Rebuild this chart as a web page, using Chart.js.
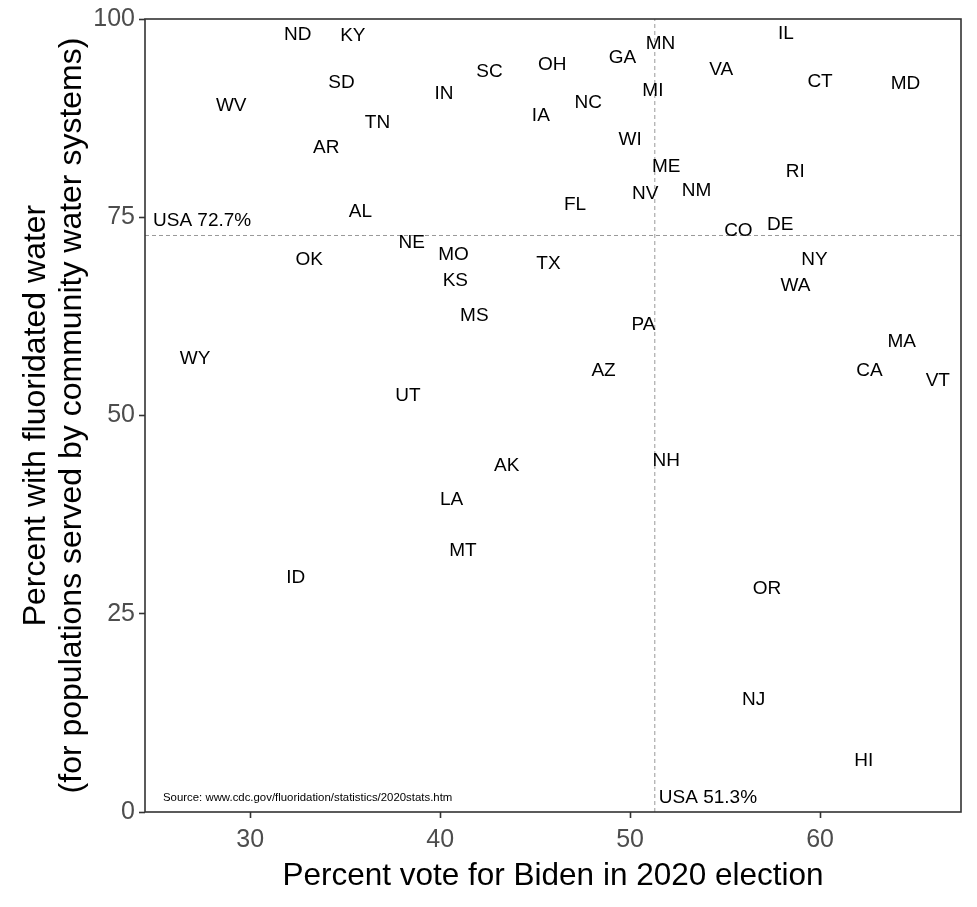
<!DOCTYPE html>
<html>
<head>
<meta charset="utf-8">
<script src="https://cdn.jsdelivr.net/npm/chart.js@4.4.1/dist/chart.umd.min.js"></script>
<style>
  html, body { margin: 0; padding: 0; background: #fff; }
  #wrap { width: 977px; height: 907px; position: relative; }
</style>
</head>
<body>
<div id="wrap"><canvas id="fluorideChart"></canvas></div>
<script>
// State abbreviations, Biden vote share and fluoridation share
const states = ["ND","KY","SD","WV","TN","AR","IN","SC","IA","AL","NE","MO","KS","OK","WY","UT","MS","AK","LA","MT","ID",
                "OH","GA","MN","MI","NC","IL","VA","CT","MD","WI","ME","RI","NV","NM","FL","CO","DE","TX","NY","WA",
                "PA","MA","CA","VT","AZ","NH","OR","NJ","HI"];
const bidenPct = [32.5,35.4,34.8,29.0,36.7,34.0,40.2,42.6,45.3,35.8,38.5,40.7,40.8,33.1,27.1,38.3,41.8,43.5,40.6,41.2,32.4,
                  45.9,49.6,51.6,51.2,47.8,58.2,54.8,60.0,64.5,50.0,51.9,58.7,50.8,53.5,47.1,55.7,57.9,45.7,59.7,58.7,
                  50.7,64.3,62.6,66.2,48.6,51.9,57.2,56.5,62.3];
const fluoridePct = [98.0,97.9,91.9,89.0,86.9,83.8,90.6,93.3,87.8,75.7,71.8,70.3,67.0,69.6,57.2,52.5,62.6,43.7,39.4,32.9,29.5,
                     94.2,95.1,96.9,90.9,89.4,98.2,93.6,92.1,91.8,84.8,81.4,80.7,78.0,78.3,76.6,73.3,74.1,69.1,69.7,66.3,
                     61.5,59.3,55.6,54.4,55.7,44.3,28.1,14.2,6.5];

// National reference values
const usaBiden = 51.3;
const usaFluoride = 72.7;

// Axis ranges and ticks
const xMin = 24.46, xMax = 67.42;
const xTicks = [30, 40, 50, 60];
const yTicks = [0, 25, 50, 75, 100];

const sourceNote = "Source: www.cdc.gov/fluoridation/statistics/2020stats.htm";
const FONT = "'Liberation Sans', Arial, sans-serif";

const points = states.map((s, i) => ({ x: bidenPct[i], y: fluoridePct[i] }));

// draws state abbreviations at each point plus the annotations
const labelPlugin = {
    id: "stateLabels",
    afterDatasetsDraw(chart) {
        const c = chart.ctx;
        const meta = chart.getDatasetMeta(2);
        const xs = chart.scales.x, ys = chart.scales.y;
        const area = chart.chartArea;
        c.save();
        c.fillStyle = "#000";
        c.font = "19px " + FONT;
        c.textAlign = "center";
        c.textBaseline = "middle";
        meta.data.forEach((el, i) => {
            c.fillText(states[i], el.x, el.y);
        });
        c.textAlign = "left";
        c.fillText("USA " + usaFluoride + "%", area.left + 8, ys.getPixelForValue(usaFluoride) - 15);
        c.fillText("USA " + usaBiden + "%", xs.getPixelForValue(usaBiden) + 4, area.bottom - 14);
        c.font = "11.4px " + FONT;
        c.fillText(sourceNote, area.left + 18, area.bottom - 14);
        // panel border
        c.strokeStyle = "#333";
        c.lineWidth = 1.6;
        c.strokeRect(area.left, area.top, area.right - area.left, area.bottom - area.top);
        c.restore();
    }
};

new Chart(document.getElementById("fluorideChart").getContext("2d"), {
    type: "scatter",
    data: {
        datasets: [
            {
                type: "line",
                data: [{ x: xMin, y: usaFluoride }, { x: xMax, y: usaFluoride }],
                borderColor: "#999",
                borderWidth: 1,
                borderDash: [4, 3],
                pointRadius: 0
            },
            {
                type: "line",
                data: [{ x: usaBiden, y: 0 }, { x: usaBiden, y: 100 }],
                borderColor: "#999",
                borderWidth: 1,
                borderDash: [4, 3],
                pointRadius: 0
            },
            {
                data: points,
                pointRadius: 0,
                pointHoverRadius: 0
            }
        ]
    },
    options: {
        responsive: true,
        maintainAspectRatio: false,
        animation: false,
        layout: { padding: { top: 16, right: 16, bottom: 0, left: 0 } },
        plugins: {
            legend: { display: false },
            tooltip: { enabled: false }
        },
        scales: {
            x: {
                type: "linear",
                min: xMin,
                max: xMax,
                afterBuildTicks: (s) => { s.ticks = xTicks.map(v => ({ value: v })); },
                afterFit: (s) => { s.height = 95; },
                grid: { drawOnChartArea: false, drawTicks: true, tickLength: 6, color: "#333", tickWidth: 1.6 },
                border: { display: false },
                ticks: { color: "#4d4d4d", font: { family: FONT, size: 25 }, padding: 7 },
                title: {
                    display: true,
                    text: "Percent vote for Biden in 2020 election",
                    color: "#000",
                    font: { family: FONT, size: 31.5, lineHeight: 1.1 },
                    padding: { top: 0, bottom: 13 }
                }
            },
            y: {
                type: "linear",
                min: 0,
                max: 100,
                afterBuildTicks: (s) => { s.ticks = yTicks.map(v => ({ value: v })); },
                afterFit: (s) => { s.width = 145; },
                grid: { drawOnChartArea: false, drawTicks: true, tickLength: 6, color: "#333", tickWidth: 1.6 },
                border: { display: false },
                ticks: { color: "#4d4d4d", font: { family: FONT, size: 25 }, padding: 4 },
                title: {
                    display: true,
                    text: ["Percent with fluoridated water", "(for populations served by community water systems)"],
                    color: "#000",
                    font: { family: FONT, size: 32, lineHeight: 1.1 },
                    padding: { top: 19, bottom: 0 }
                }
            }
        }
    },
    plugins: [labelPlugin]
});
</script>
</body>
</html>
